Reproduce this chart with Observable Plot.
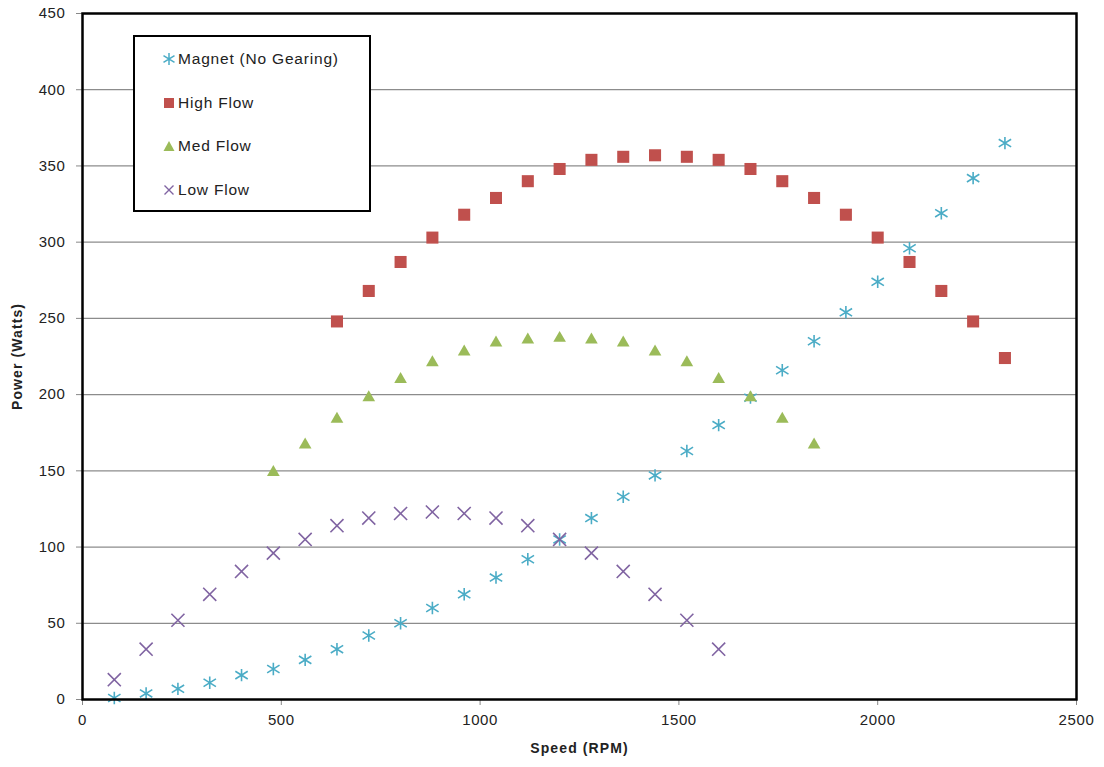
<!DOCTYPE html>
<html>
<head>
<meta charset="utf-8">
<script src="https://cdn.jsdelivr.net/npm/d3@7"></script>
<script src="https://cdn.jsdelivr.net/npm/@observablehq/plot@0.6"></script>
<style>
  body { margin: 0; background: #fff; font-family: "Liberation Sans", Arial, sans-serif; }
  #wrap { position: relative; width: 1104px; height: 767px; }
  #wrap svg { font-family: "Liberation Sans", Arial, sans-serif; letter-spacing: 0.6px; }
  g[aria-label="y-axis label"] text, g[aria-label="x-axis label"] text { font-weight: bold; font-size: 14px; letter-spacing: 1.1px; }
  #legend { position: absolute; left: 133px; top: 35px; width: 234px; height: 173px; border: 2px solid #000; background: #fff; }
  .item { position: absolute; left: 28px; height: 20px; display: flex; align-items: center; font-size: 15.5px; letter-spacing: 0.8px; color: #222; }
  .item svg { margin-right: 3px; }
</style>
</head>
<body>
<div id="wrap"></div>
<script>
// Data
const magnetRPM   = [80,160,240,320,400,480,560,640,720,800,880,960,1040,1120,1200,1280,1360,1440,1520,1600,1680,1760,1840,1920,2000,2080,2160,2240,2320];
const magnetWatts = [1,4,7,11,16,20,26,33,42,50,60,69,80,92,105,119,133,147,163,180,198,216,235,254,274,296,319,342,365];

const highRPM   = [640,720,800,880,960,1040,1120,1200,1280,1360,1440,1520,1600,1680,1760,1840,1920,2000,2080,2160,2240,2320];
const highWatts = [248,268,287,303,318,329,340,348,354,356,357,356,354,348,340,329,318,303,287,268,248,224];

const medRPM   = [480,560,640,720,800,880,960,1040,1120,1200,1280,1360,1440,1520,1600,1680,1760,1840];
const medWatts = [149,167,184,198,210,221,228,234,236,237,236,234,228,221,210,198,184,167];

const lowRPM   = [80,160,240,320,400,480,560,640,720,800,880,960,1040,1120,1200,1280,1360,1440,1520,1600];
const lowWatts = [13,33,52,69,84,96,105,114,119,122,123,122,119,114,105,96,84,69,52,33];

const xTicks = [0,500,1000,1500,2000,2500];
const yTicks = [0,50,100,150,200,250,300,350,400,450];

// Excel-style star marker: vertical bar plus a wide X
const starSymbol = {
  draw(ctx, size) {
    const r = Math.sqrt(size / Math.PI);
    ctx.moveTo(0, -r); ctx.lineTo(0, r);
    ctx.moveTo(-r, -r * 0.62); ctx.lineTo(r, r * 0.62);
    ctx.moveTo(-r, r * 0.62); ctx.lineTo(r, -r * 0.62);
  }
};

const series = [
  {name: "Magnet (No Gearing)", rpm: magnetRPM, watts: magnetWatts, color: "#4BACC6", symbol: starSymbol, key: "star", r: 6.2, stroke: true},
  {name: "High Flow", rpm: highRPM, watts: highWatts, color: "#C0504D", symbol: "square", key: "square", r: 6.8, stroke: false},
  {name: "Med Flow", rpm: medRPM, watts: medWatts, color: "#9BBB59", symbol: "triangle", key: "triangle", r: 4.7, stroke: false},
  {name: "Low Flow", rpm: lowRPM, watts: lowWatts, color: "#8064A2", symbol: "times", key: "times", r: 6.0, stroke: true}
];

const rows = s => s.rpm.map((x, i) => ({x, y: s.watts[i]}));

const dotMarks = series.map(s => Plot.dot(rows(s), {
  x: "x", y: "y", symbol: s.symbol, r: s.r,
  ...(s.stroke ? {stroke: s.color, fill: "none", strokeWidth: 1.6} : {fill: s.color, stroke: "none"})
}));

const chart = Plot.plot({
  width: 1104, height: 767,
  marginLeft: 82, marginRight: 28, marginTop: 13, marginBottom: 68,
  style: {fontSize: "15px", color: "#222", background: "#fff"},
  x: {domain: [0, 2500]},
  y: {domain: [0, 450]},
  marks: [
    Plot.gridY(yTicks, {stroke: "#8c8c8c", strokeOpacity: 1, strokeWidth: 1.2}),
    Plot.axisY(yTicks, {tickSize: 6, tickPadding: 11, stroke: "#888", tickFormat: d => String(d), label: "Power (Watts)", labelAnchor: "center", labelArrow: "none", labelOffset: 70}),
    Plot.axisX(xTicks, {tickSize: 6, tickPadding: 9, stroke: "#888", tickFormat: d => String(d), label: "Speed (RPM)", labelAnchor: "center", labelArrow: "none", labelOffset: 53}),
    ...dotMarks,
    Plot.frame({stroke: "#000", strokeWidth: 2.5})
  ]
});
document.getElementById("wrap").appendChild(chart);

// Legend overlay
const legend = document.createElement("div");
legend.id = "legend";
const shapes = {
  star: c => `<path d="M6,0V12M0.5,2.6L11.5,9.4M0.5,9.4L11.5,2.6" stroke="${c}" stroke-width="1.5" fill="none"/>`,
  square: c => `<rect x="1" y="1" width="10" height="10" fill="${c}"/>`,
  triangle: c => `<path d="M6,1L11.5,11H0.5Z" fill="${c}"/>`,
  times: c => `<path d="M1.5,1.5L10.5,10.5M1.5,10.5L10.5,1.5" stroke="${c}" stroke-width="1.4" fill="none"/>`
};
series.forEach((s, i) => {
  const it = document.createElement("div");
  it.className = "item";
  it.style.top = (12 + i * 43.7) + "px";
  it.innerHTML = `<svg width="12" height="12" viewBox="0 0 12 12">${shapes[s.key](s.color)}</svg><span>${s.name}</span>`;
  legend.appendChild(it);
});
document.getElementById("wrap").appendChild(legend);
</script>
</body>
</html>
